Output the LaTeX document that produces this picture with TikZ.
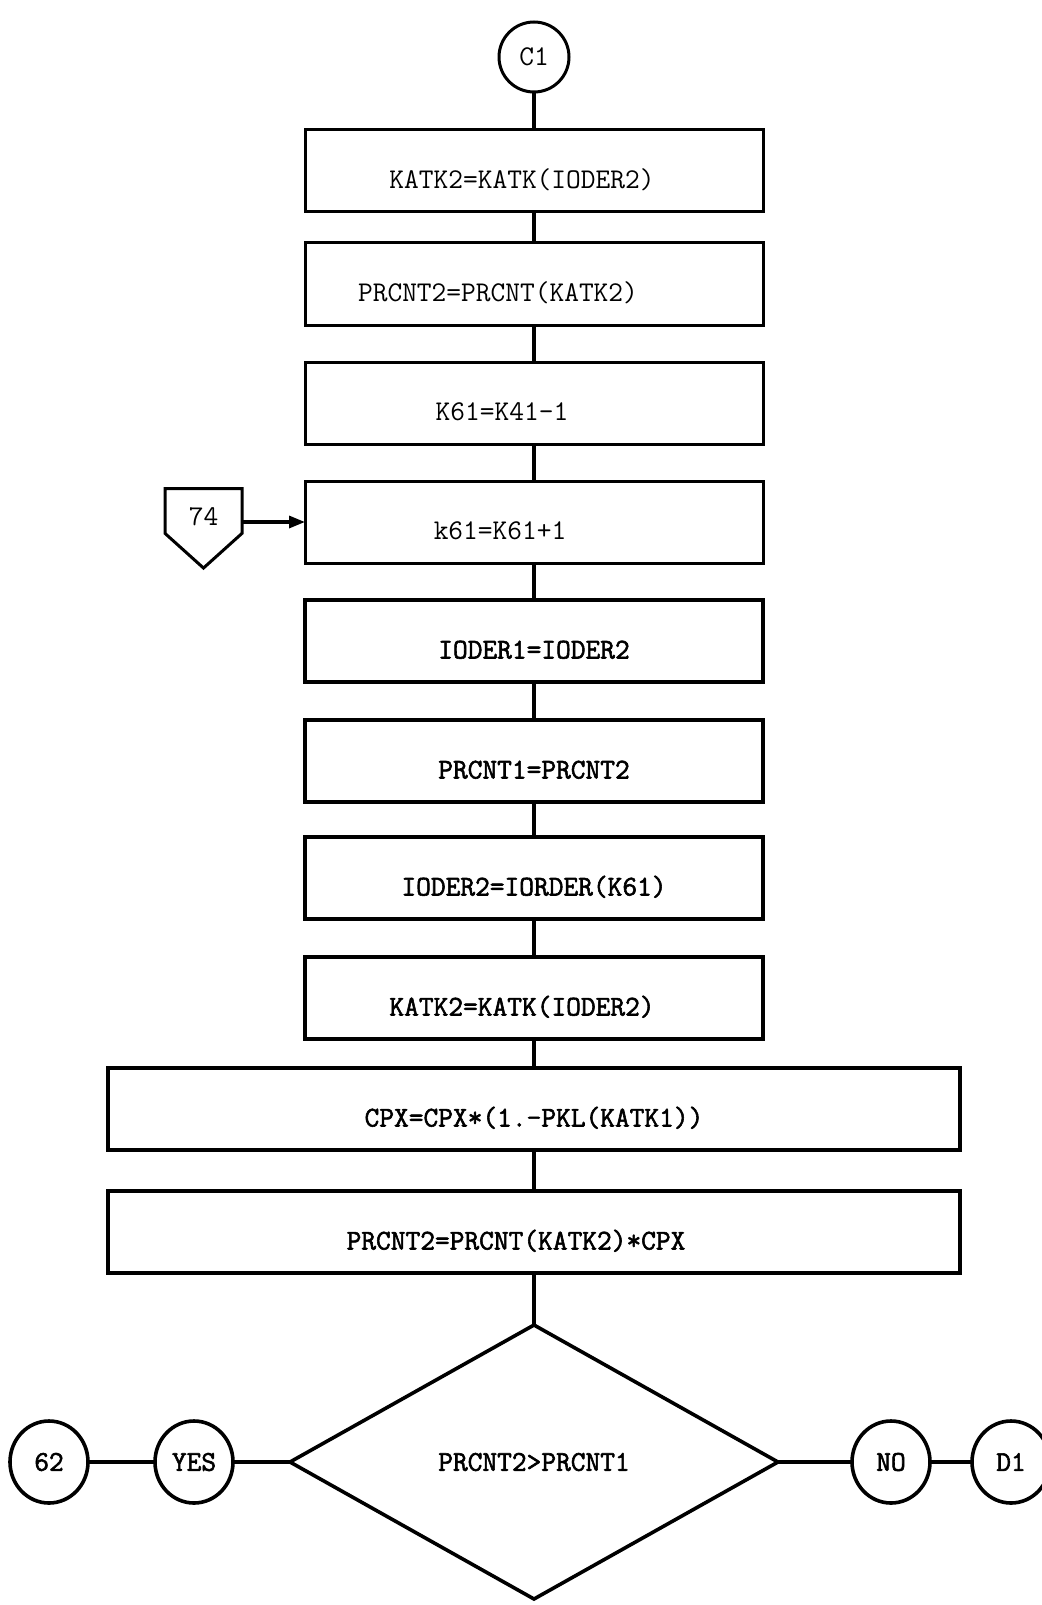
\documentclass[tikz,border=0pt]{standalone}
\usepackage{fontspec}
\usepackage{tikz}
\usetikzlibrary{positioning,arrows.meta,shapes.geometric,shapes.symbols}
\newfontfamily\tw{Latin Modern Mono}
\newfontfamily\twb{Latin Modern Mono}[FakeBold=2]
\newcommand{\twsize}{\fontsize{14.3}{16}\selectfont}
\tikzset{
  box/.style={draw, line width=1.5pt, minimum width=229pt, minimum height=41pt, outer sep=0pt,
              inner sep=0pt, font=\tw\twsize, text height=17.5pt, text depth=0pt},
  bbox/.style={box, line width=1.8pt, font=\twb\twsize},
  wbox/.style={bbox, minimum width=426pt},
  lft/.style={execute at begin node={\hspace*{-#1}}},
  conn/.style={draw, ellipse, line width=1.5pt, minimum width=35pt, minimum height=35pt,
               outer sep=0pt, inner sep=0pt, font=\tw\twsize},
  bconn/.style={conn, line width=1.8pt, minimum width=39pt, minimum height=41pt, font=\twb\twsize},
  dec/.style={draw, diamond, line width=1.8pt, minimum width=244pt, minimum height=137pt,
              outer sep=0pt, inner sep=0pt, font=\twb\twsize},
  offpage/.style={draw, signal, signal to=south, signal from=nowhere, signal pointer angle=96,
                  line width=1.5pt, minimum width=38.5pt, minimum height=29pt, outer sep=0pt,
                  inner sep=0pt, font=\tw\twsize, text height=14pt, text depth=0pt},
  ln/.style={line width=1.6pt},
  arr/.style={ln, -{Triangle[length=8pt, width=6pt]}},
}
\begin{document}
\begin{tikzpicture}[node distance=18.5pt]
  \useasboundingbox (0,0) rectangle (520.5pt,-802.5pt);
  \node[conn] (c1) at (267pt,-28.5pt) {C1};
  \node[box, lft=12pt, below=19pt of c1] (katk) {KATK2=KATK(IODER2)};
  \node[box, lft=36pt, below=15.5pt of katk] (prc2) {PRCNT2=PRCNT(KATK2)};
  \node[box, lft=32pt, below=of prc2] (k61) {K61=K41-1};
  \node[box, lft=34pt, below=of k61] (k61b) {k61=K61+1};
  \node[bbox, below=of k61b] (iod1) {IODER1=IODER2};
  \node[bbox, below=19pt of iod1] (prc1) {PRCNT1=PRCNT2};
  \node[bbox, below=17.5pt of prc1] (iod2) {IODER2=IORDER(K61)};
  \node[bbox, lft=12pt, below=19pt of iod2] (katk2) {KATK2=KATK(IODER2)};
  \node[wbox, below=14.5pt of katk2] (cpx) {CPX=CPX*(1.-PKL(KATK1))};
  \node[wbox, lft=18pt, below=20.5pt of cpx] (prc2b) {PRCNT2=PRCNT(KATK2)*CPX};
  \node[dec, below=26pt of prc2b] (test) {PRCNT2>PRCNT1};

  \node[offpage, left=31.5pt of k61b, yshift=5.5pt] (c74) {74};
  \node[bconn, left=28.5pt of test] (yes) {YES};
  \node[bconn, left=33.5pt of yes] (r62) {62};
  \node[bconn, right=37pt of test] (no) {NO};
  \node[bconn, right=21pt of no] (d1) {D1};

  \foreach \a/\b in {c1/katk, katk/prc2, prc2/k61, k61/k61b, k61b/iod1, iod1/prc1,
                     prc1/iod2, iod2/katk2, katk2/cpx, cpx/prc2b, prc2b/test,
                     r62/yes, yes/test, test/no, no/d1}
    \draw[ln] (\a) -- (\b);
  \draw[arr] (c74.east |- k61b.west) -- (k61b.west);
\end{tikzpicture}
\end{document}
